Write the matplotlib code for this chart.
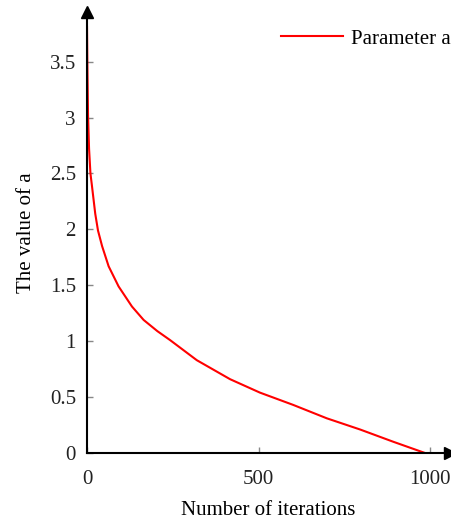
import matplotlib
matplotlib.use("Agg")
from matplotlib import pyplot as plt

# values
iterations = [0, 1, 3, 6, 10, 14, 24, 32, 44, 63, 92, 131, 165, 205, 242,
              320, 417, 504, 601, 699, 796, 893, 985]
a_values = [3.81, 3.49, 3.02, 2.72, 2.50, 2.40, 2.14, 1.99, 1.85, 1.67, 1.49,
            1.31, 1.19, 1.09, 1.01, 0.83, 0.66, 0.54, 0.43, 0.31, 0.21, 0.10,
            0.0]

x_ticks = [0, 500, 1000]
y_ticks = [0, 0.5, 1, 1.5, 2, 2.5, 3, 3.5]
y_labels = ["0", "0.5", "1", "1.5", "2", "2.5", "3", "3.5"]

plt.rcParams["font.family"] = "Liberation Serif"

fig = plt.figure(figsize=(4.52, 5.19), dpi=100)
ax = fig.add_axes([0.1925, 0.1272, 0.8031, 0.8498])

ax.plot(iterations, a_values, c="red", lw=1.5, label="Parameter a")

ax.set_xlim(0, 1058)
ax.set_ylim(0, 3.945)
ax.set_xticks(x_ticks)
ax.set_xticklabels([str(t) for t in x_ticks])
ax.set_yticks(y_ticks)
ax.set_yticklabels(y_labels)

for side in ["top", "right"]:
    ax.spines[side].set_visible(False)
for side in ["left", "bottom"]:
    ax.spines[side].set_linewidth(1.5)

ax.tick_params(direction="in", length=4, width=1, color="#888888",
               labelsize=15, labelcolor="#222222")
ax.tick_params(axis="x", pad=12)
ax.tick_params(axis="y", pad=8)

# arrow heads on the axes
ax.plot(1, 0, ">k", ms=8, transform=ax.get_yaxis_transform(), clip_on=False)
ax.plot(0, 1, "^k", ms=8, transform=ax.get_xaxis_transform(), clip_on=False)

ax.set_xlabel("Number of iterations", fontsize=15, labelpad=9)
ax.set_ylabel("The value of a", fontsize=15, labelpad=10)

ax.legend(loc="upper right", frameon=False, fontsize=15, handlelength=3,
          handletextpad=0.35, borderaxespad=0.1,
          bbox_to_anchor=(1.03, 0.985))

fig.savefig("out.png", dpi=100)
